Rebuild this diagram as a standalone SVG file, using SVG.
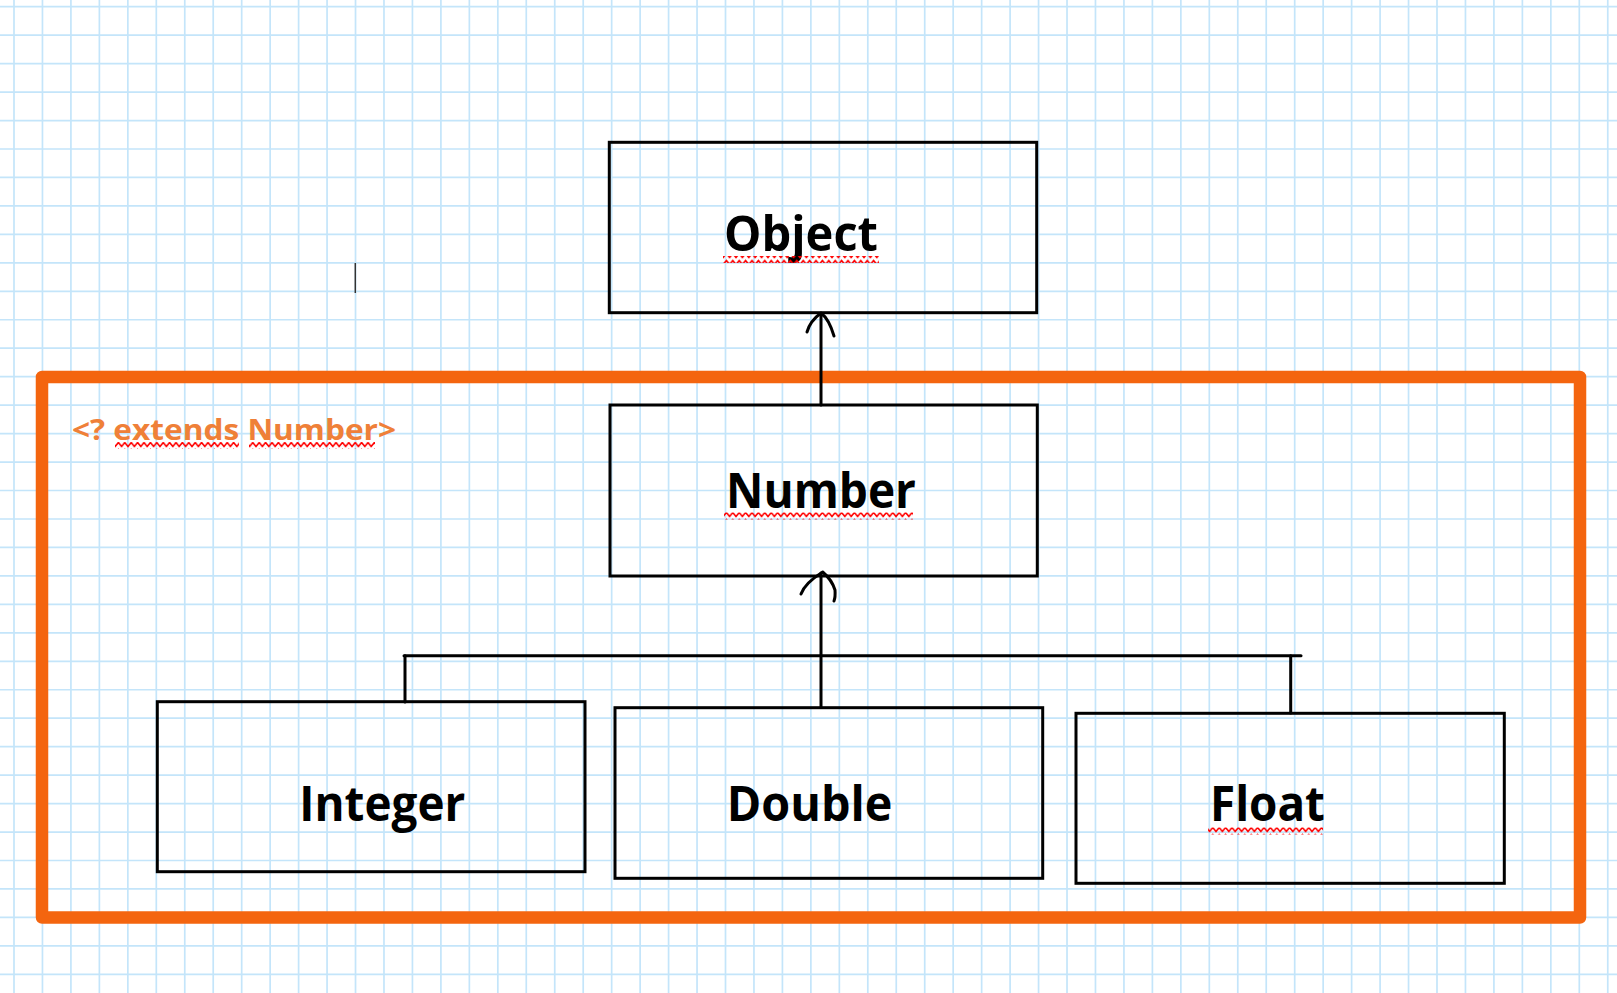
<svg xmlns="http://www.w3.org/2000/svg" width="1617" height="993" viewBox="0 0 1617 993">
<defs>
<style>
.grid{stroke:#c4e5fa;stroke-width:1.7;fill:none}
.box{fill:none;stroke:#000;stroke-width:3}
.lbl{font-family:"Open Sans","Noto Sans","Liberation Sans",sans-serif;font-weight:700;font-size:49px;fill:#000}
.conn{fill:none;stroke:#000;stroke-width:3;stroke-linecap:round;stroke-linejoin:round}
.sq{fill:url(#squig)}
</style>
<pattern id="squig" patternUnits="userSpaceOnUse" width="6.4" height="7" x="0" y="0">
<path d="M-1.6 3.5 L0 5.5 L3.2 1.5 L6.4 5.5 L8 3.5" fill="none" stroke="#ff0000" stroke-width="1.6"/>
</pattern>
</defs>
<rect width="1617" height="993" fill="#ffffff"/>
<g id="grid" class="grid">
<path d="M14 0V993M42.46 0V993M70.92 0V993M99.38 0V993M127.84 0V993M156.3 0V993M184.76 0V993M213.22 0V993M241.68 0V993M270.14 0V993M298.6 0V993M327.06 0V993M355.52 0V993M383.98 0V993M412.44 0V993M440.9 0V993M469.36 0V993M497.82 0V993M526.28 0V993M554.74 0V993M583.2 0V993M611.66 0V993M640.12 0V993M668.58 0V993M697.04 0V993M725.5 0V993M753.96 0V993M782.42 0V993M810.88 0V993M839.34 0V993M867.8 0V993M896.26 0V993M924.72 0V993M953.18 0V993M981.64 0V993M1010.1 0V993M1038.56 0V993M1067.02 0V993M1095.48 0V993M1123.94 0V993M1152.4 0V993M1180.86 0V993M1209.32 0V993M1237.78 0V993M1266.24 0V993M1294.7 0V993M1323.16 0V993M1351.62 0V993M1380.08 0V993M1408.54 0V993M1437 0V993M1465.46 0V993M1493.92 0V993M1522.38 0V993M1550.84 0V993M1579.3 0V993M1607.76 0V993"/>
<path d="M0 6.7H1617M0 35.16H1617M0 63.62H1617M0 92.08H1617M0 120.54H1617M0 149H1617M0 177.46H1617M0 205.92H1617M0 234.38H1617M0 262.84H1617M0 291.3H1617M0 319.76H1617M0 348.22H1617M0 376.68H1617M0 405.14H1617M0 433.6H1617M0 462.06H1617M0 490.52H1617M0 518.98H1617M0 547.44H1617M0 575.9H1617M0 604.36H1617M0 632.82H1617M0 661.28H1617M0 689.74H1617M0 718.2H1617M0 746.66H1617M0 775.12H1617M0 803.58H1617M0 832.04H1617M0 860.5H1617M0 888.96H1617M0 917.42H1617M0 945.88H1617M0 974.34H1617"/>
</g>
<line id="cursor" x1="355.3" y1="263" x2="355.3" y2="293" stroke="#333" stroke-width="1.5"/>
<g id="bounds">
<rect x="42" y="377" width="1538" height="540.5" fill="none" stroke="#f4650f" stroke-width="12.5" stroke-linejoin="round"/>
<text x="72" y="440" font-family="'Open Sans','Noto Sans','Liberation Sans',sans-serif" font-weight="700" font-size="28" fill="#ef8038" textLength="324" lengthAdjust="spacingAndGlyphs">&lt;? extends Number&gt;</text>
<rect class="sq" x="115" y="442" width="124" height="7"/>
<rect class="sq" x="249" y="442" width="126" height="7"/>
</g>
<g id="connectors">
<path class="conn" d="M821 405V314"/>
<path class="conn" d="M807 332 Q810 321 821 313 Q829 319 834 336"/>
<path class="conn" d="M821 707V573"/>
<path class="conn" d="M801 594 Q805 583 822.7 572 Q832 580 835 590 Q835.5 597 834 601"/>
<path class="conn" d="M404 655.7H1301"/>
<path class="conn" d="M405 655.7V702"/>
<path class="conn" d="M1290.7 655.7V713"/>
</g>
<g id="node-object">
<rect class="box" x="609.3" y="142.3" width="427.4" height="170.4"/>
<text class="lbl" x="724" y="250.7" textLength="154" lengthAdjust="spacingAndGlyphs">Object</text>
<rect class="sq" x="723" y="256" width="156" height="7"/>
</g>
<g id="node-number">
<rect class="box" x="610" y="405" width="427.3" height="171"/>
<text class="lbl" x="726" y="508.3" textLength="190" lengthAdjust="spacingAndGlyphs">Number</text>
<rect class="sq" x="724" y="512.5" width="189" height="7"/>
</g>
<g id="node-integer">
<rect class="box" x="157.3" y="701.7" width="427.7" height="170"/>
<text class="lbl" x="299.3" y="820.7" textLength="166" lengthAdjust="spacingAndGlyphs">Integer</text>
</g>
<g id="node-double">
<rect class="box" x="615" y="707.7" width="427.7" height="170.6"/>
<text class="lbl" x="726.7" y="821" textLength="165.6" lengthAdjust="spacingAndGlyphs">Double</text>
</g>
<g id="node-float">
<rect class="box" x="1076" y="713.3" width="428.3" height="170"/>
<text class="lbl" x="1210" y="821" textLength="115" lengthAdjust="spacingAndGlyphs">Float</text>
<rect class="sq" x="1208" y="827.5" width="115" height="7"/>
</g>
</svg>
